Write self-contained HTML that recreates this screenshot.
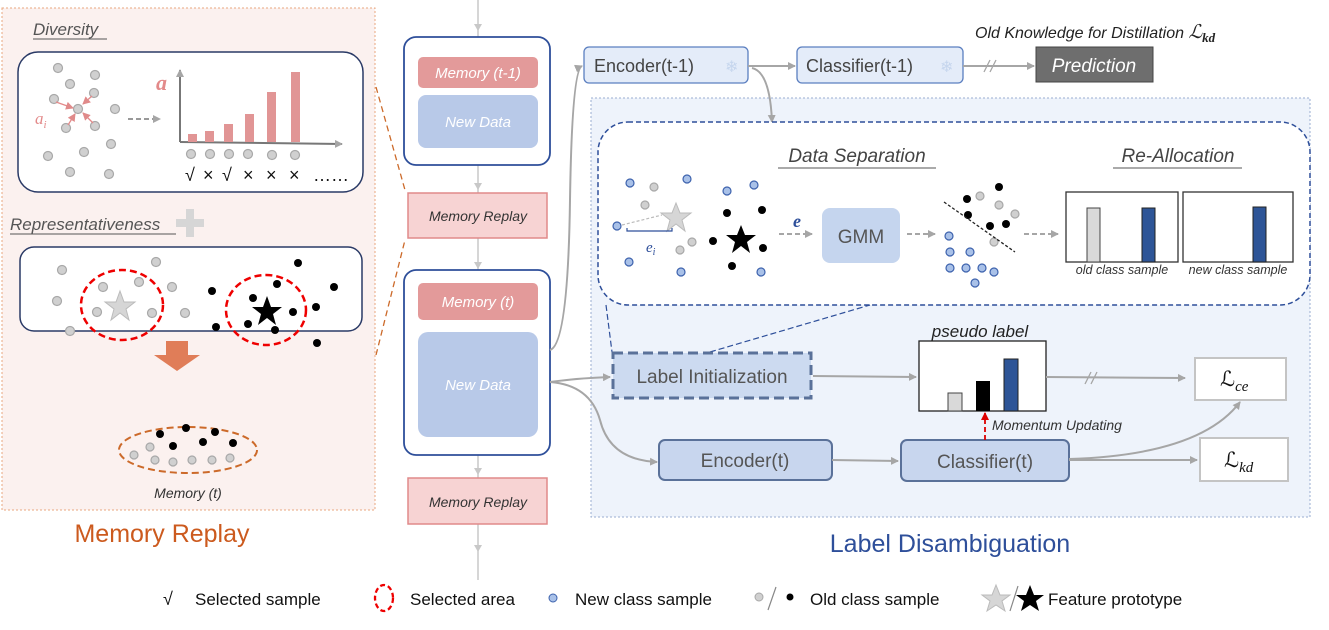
<!DOCTYPE html>
<html><head><meta charset="utf-8"><style>
html,body{margin:0;padding:0;background:#fff;}
svg{display:block;font-family:"Liberation Sans",sans-serif;}
</style></head><body>
<svg width="1329" height="630" viewBox="0 0 1329 630" xmlns="http://www.w3.org/2000/svg">
<defs>
<marker id="ag" markerWidth="8" markerHeight="8" refX="7" refY="4" orient="auto" markerUnits="userSpaceOnUse"><path d="M0,0 L8,4 L0,8 z" fill="#a6a6a6"/></marker>
<marker id="ar" markerWidth="8" markerHeight="8" refX="7" refY="4" orient="auto" markerUnits="userSpaceOnUse"><path d="M0,0 L8,4 L0,8 z" fill="#d00"/></marker>
<marker id="ap" markerWidth="8" markerHeight="8" refX="7" refY="4" orient="auto" markerUnits="userSpaceOnUse"><path d="M0,0 L8,4 L0,8 z" fill="#e08a8a"/></marker>
</defs>

<rect x="2" y="8" width="373" height="502" fill="#fbf1ef" stroke="#e9a77f" stroke-dasharray="2,2"/>
<text x="33" y="35" font-size="17" font-style="italic" fill="#555">Diversity</text>
<line x1="33" y1="39" x2="107" y2="39" stroke="#555"/>
<rect x="18" y="52" width="345" height="140" rx="20" fill="#fff" stroke="#2a3a66" stroke-width="1.5"/>
<g fill="#d0d0d0" stroke="#a8a8a8" stroke-width="1.2">
<circle cx="58" cy="68" r="4.5"/><circle cx="95" cy="75" r="4.5"/><circle cx="70" cy="84" r="4.5"/><circle cx="94" cy="93" r="4.5"/><circle cx="54" cy="99" r="4.5"/><circle cx="78" cy="109" r="4.5"/><circle cx="115" cy="109" r="4.5"/><circle cx="66" cy="128" r="4.5"/><circle cx="95" cy="126" r="4.5"/><circle cx="111" cy="144" r="4.5"/><circle cx="48" cy="156" r="4.5"/><circle cx="84" cy="152" r="4.5"/><circle cx="70" cy="172" r="4.5"/><circle cx="109" cy="174" r="4.5"/>
</g>
<g stroke="#e38a8a" stroke-width="1.3" marker-end="url(#ap)"><line x1="56" y1="102" x2="73" y2="108"/><line x1="92" y1="96" x2="83" y2="104"/><line x1="68" y1="125" x2="75" y2="114"/><line x1="93" y1="123" x2="83" y2="113"/></g>
<text x="35" y="124" font-size="17" font-style="italic" fill="#e38a8a" font-family="Liberation Serif,serif">a<tspan font-size="11" dy="4">i</tspan></text>
<line x1="128" y1="119" x2="160" y2="119" stroke="#999" stroke-width="2" stroke-dasharray="5,3" marker-end="url(#ag)"/>
<line x1="180" y1="142" x2="180" y2="70" stroke="#777" stroke-width="2" marker-end="url(#ag)"/>
<line x1="180" y1="142" x2="342" y2="144" stroke="#777" stroke-width="2" marker-end="url(#ag)"/>
<text x="156" y="90" font-size="22" font-weight="bold" font-style="italic" fill="#e38a8a" font-family="Liberation Serif,serif">a</text>
<g fill="#e19595"><rect x="188" y="134" width="9" height="8"/><rect x="205" y="131" width="9" height="11"/><rect x="224" y="124" width="9" height="18"/><rect x="245" y="114" width="9" height="28"/><rect x="267" y="92" width="9" height="50"/><rect x="291" y="72" width="9" height="70"/></g>
<g fill="#d0d0d0" stroke="#a8a8a8" stroke-width="1.2"><circle cx="191" cy="154" r="4.5"/><circle cx="210" cy="154" r="4.5"/><circle cx="229" cy="154" r="4.5"/><circle cx="248" cy="154" r="4.5"/><circle cx="272" cy="155" r="4.5"/><circle cx="295" cy="155" r="4.5"/></g>
<g font-size="18" fill="#111"><text x="185" y="181">√</text><text x="203" y="181">×</text><text x="222" y="181">√</text><text x="243" y="181">×</text><text x="266" y="181">×</text><text x="289" y="181">×</text><text x="313" y="181">……</text></g>

<text x="10" y="230" font-size="17" font-style="italic" fill="#555">Representativeness</text>
<line x1="10" y1="234" x2="176" y2="234" stroke="#555"/>
<path d="M186,209 h8 v10 h10 v8 h-10 v10 h-8 v-10 h-10 v-8 h10 z" fill="#d6d6d6"/>
<rect x="20" y="247" width="342" height="84" rx="14" fill="#fff" stroke="#2a3a66" stroke-width="1.5"/>
<g fill="#d0d0d0" stroke="#a8a8a8" stroke-width="1.2"><circle cx="62" cy="270" r="4.5"/><circle cx="156" cy="262" r="4.5"/><circle cx="103" cy="287" r="4.5"/><circle cx="139" cy="282" r="4.5"/><circle cx="172" cy="287" r="4.5"/><circle cx="57" cy="301" r="4.5"/><circle cx="97" cy="312" r="4.5"/><circle cx="152" cy="313" r="4.5"/><circle cx="185" cy="313" r="4.5"/><circle cx="70" cy="331" r="4.5"/></g>
<ellipse cx="122" cy="305" rx="41" ry="35" fill="none" stroke="#e00" stroke-width="2.5" stroke-dasharray="7,4"/>
<polygon points="120,291 124,302 135,302 126,309 129,320 120,313 111,320 114,309 105,302 116,302" fill="#d6d6d6" stroke="#bbb"/>
<ellipse cx="266" cy="310" rx="40" ry="35" fill="none" stroke="#e00" stroke-width="2.5" stroke-dasharray="7,4"/>
<g fill="#000"><circle cx="298" cy="263" r="4"/><circle cx="277" cy="284" r="4"/><circle cx="334" cy="287" r="4"/><circle cx="212" cy="291" r="4"/><circle cx="253" cy="298" r="4"/><circle cx="316" cy="307" r="4"/><circle cx="293" cy="312" r="4"/><circle cx="216" cy="327" r="4"/><circle cx="248" cy="324" r="4"/><circle cx="275" cy="330" r="4"/><circle cx="317" cy="343" r="4"/></g>
<polygon points="267,296 271,307 282,307 273,314 276,325 267,318 258,325 261,314 252,307 263,307" fill="#000"/>
<path d="M166,341 h22 v14 h12 l-23,16 l-23,-16 h12 z" fill="#e07d58"/>
<ellipse cx="188" cy="450" rx="69" ry="23" fill="none" stroke="#cc6a2a" stroke-width="2" stroke-dasharray="7,4"/>
<g fill="#000"><circle cx="160" cy="434" r="4"/><circle cx="186" cy="428" r="4"/><circle cx="215" cy="432" r="4"/><circle cx="173" cy="446" r="4"/><circle cx="203" cy="442" r="4"/><circle cx="233" cy="443" r="4"/></g>
<g fill="#d0d0d0" stroke="#a8a8a8" stroke-width="1.2"><circle cx="134" cy="455" r="4"/><circle cx="155" cy="460" r="4"/><circle cx="173" cy="462" r="4"/><circle cx="192" cy="460" r="4"/><circle cx="212" cy="460" r="4"/><circle cx="230" cy="458" r="4"/><circle cx="150" cy="447" r="4"/></g>
<text x="188" y="498" font-size="14" font-style="italic" fill="#333" text-anchor="middle">Memory (t)</text>
<text x="162" y="542" font-size="25" fill="#cc5a1e" text-anchor="middle">Memory Replay</text>
<line x1="376" y1="87" x2="405" y2="190" stroke="#cc6a2a" stroke-width="1.3" stroke-dasharray="6,4"/>
<line x1="376" y1="355" x2="405" y2="240" stroke="#cc6a2a" stroke-width="1.3" stroke-dasharray="6,4"/>

<line x1="478" y1="0" x2="478" y2="580" stroke="#c8c8c8" stroke-width="1.5"/>
<g fill="#c8c8c8"><path d="M474,24 l4,7 l4,-7z"/><path d="M474,183 l4,7 l4,-7z"/><path d="M474,262 l4,7 l4,-7z"/><path d="M474,468 l4,7 l4,-7z"/><path d="M474,545 l4,7 l4,-7z"/></g>
<rect x="404" y="37" width="146" height="128" rx="12" fill="#fff" stroke="#2e4f9a" stroke-width="1.8"/>
<rect x="418" y="57" width="120" height="31" rx="5" fill="#e39a9a"/>
<text x="478" y="78" font-size="15" font-style="italic" fill="#fff" text-anchor="middle">Memory (t-1)</text>
<rect x="418" y="95" width="120" height="53" rx="8" fill="#b8c9e8"/>
<text x="478" y="127" font-size="15" font-style="italic" fill="#fff" text-anchor="middle">New Data</text>
<rect x="408" y="193" width="139" height="45" fill="#f7d3d3" stroke="#e08a8a" stroke-width="1.5"/>
<text x="478" y="221" font-size="14" font-style="italic" fill="#333" text-anchor="middle">Memory Replay</text>
<rect x="404" y="270" width="146" height="185" rx="12" fill="#fff" stroke="#2e4f9a" stroke-width="1.8"/>
<rect x="418" y="283" width="120" height="37" rx="5" fill="#e39a9a"/>
<text x="478" y="307" font-size="15" font-style="italic" fill="#fff" text-anchor="middle">Memory (t)</text>
<rect x="418" y="332" width="120" height="105" rx="10" fill="#b8c9e8"/>
<text x="478" y="390" font-size="15" font-style="italic" fill="#fff" text-anchor="middle">New Data</text>
<rect x="408" y="478" width="139" height="46" fill="#f7d3d3" stroke="#e08a8a" stroke-width="1.5"/>
<text x="478" y="507" font-size="14" font-style="italic" fill="#333" text-anchor="middle">Memory Replay</text>

<rect x="591" y="98" width="719" height="419" fill="#eef3fb" stroke="#9aaed0" stroke-dasharray="2,2"/>
<text x="975" y="38" font-size="16" font-style="italic" fill="#222">Old Knowledge for Distillation <tspan font-family="Liberation Serif,serif" font-size="19">ℒ</tspan><tspan font-family="Liberation Serif,serif" font-size="13" font-style="italic" font-weight="bold" dy="4">kd</tspan></text>
<rect x="584" y="47" width="164" height="36" rx="5" fill="#e4ecf9" stroke="#5b7fc0" stroke-width="1.3"/>
<text x="594" y="72" font-size="18" fill="#444">Encoder(t-1)</text><text x="725" y="72" font-size="16" fill="#c6d6ee">❄</text>
<rect x="797" y="47" width="166" height="36" rx="5" fill="#e4ecf9" stroke="#5b7fc0" stroke-width="1.3"/>
<text x="806" y="72" font-size="18" fill="#444">Classifier(t-1)</text><text x="940" y="72" font-size="16" fill="#c6d6ee">❄</text>
<rect x="1036" y="47" width="117" height="35" fill="#6e6e6e" stroke="#444"/>
<text x="1094" y="72" font-size="19" font-style="italic" fill="#fff" text-anchor="middle">Prediction</text>
<line x1="748" y1="66" x2="795" y2="66" stroke="#a6a6a6" stroke-width="2" marker-end="url(#ag)"/>
<line x1="963" y1="66" x2="1034" y2="66" stroke="#a6a6a6" stroke-width="2" marker-end="url(#ag)"/>
<path d="M984,72 l6,-12 M990,72 l6,-12" stroke="#a6a6a6" stroke-width="1.3"/>
<path d="M752,68 Q770,72 772,122" fill="none" stroke="#a6a6a6" stroke-width="2" marker-end="url(#ag)"/>
<path d="M550,350 Q568,345 570,200 Q572,70 582,66" fill="none" stroke="#a6a6a6" stroke-width="2" marker-end="url(#ag)"/>

<rect x="598" y="122" width="712" height="183" rx="30" fill="#fff" stroke="#2e4f9a" stroke-width="1.5" stroke-dasharray="5,3"/>
<text x="857" y="162" font-size="19" font-style="italic" fill="#444" text-anchor="middle">Data Separation</text>
<line x1="778" y1="168" x2="936" y2="168" stroke="#555"/>
<text x="1178" y="162" font-size="19" font-style="italic" fill="#444" text-anchor="middle">Re-Allocation</text>
<line x1="1113" y1="168" x2="1242" y2="168" stroke="#555"/>
<g fill="#a9c1e8" stroke="#3d62ad" stroke-width="1.2"><circle cx="630" cy="183" r="4"/><circle cx="687" cy="179" r="4"/><circle cx="727" cy="191" r="4"/><circle cx="754" cy="185" r="4"/><circle cx="617" cy="226" r="4"/><circle cx="629" cy="262" r="4"/><circle cx="681" cy="272" r="4"/><circle cx="761" cy="272" r="4"/></g>
<g fill="#d0d0d0" stroke="#a8a8a8" stroke-width="1.2"><circle cx="654" cy="187" r="4"/><circle cx="645" cy="205" r="4"/><circle cx="692" cy="242" r="4"/><circle cx="680" cy="250" r="4"/></g>
<polygon points="676,203 680,213 691,213 682,220 685,231 676,224 667,231 670,220 661,213 672,213" fill="#d6d6d6" stroke="#bbb"/>
<line x1="622" y1="225" x2="662" y2="215" stroke="#bbb" stroke-width="1.2" stroke-dasharray="3,2"/>
<path d="M627,228 v3 h45 v-3" fill="none" stroke="#2e4f9a" stroke-width="1.2"/>
<text x="646" y="252" font-size="15" font-style="italic" fill="#2e4f9a" font-family="Liberation Serif,serif">e<tspan font-size="10" dy="3">i</tspan></text>
<g fill="#000"><circle cx="727" cy="213" r="4"/><circle cx="762" cy="210" r="4"/><circle cx="713" cy="241" r="4"/><circle cx="763" cy="248" r="4"/><circle cx="732" cy="266" r="4"/></g>
<polygon points="741,225 745,235 756,235 747,242 750,253 741,246 732,253 735,242 726,235 737,235" fill="#000"/>
<text x="793" y="227" font-size="18" font-weight="bold" font-style="italic" fill="#2e4f9a" font-family="Liberation Serif,serif">e</text>
<line x1="779" y1="234" x2="812" y2="234" stroke="#a6a6a6" stroke-width="2" stroke-dasharray="5,3" marker-end="url(#ag)"/>
<rect x="822" y="208" width="78" height="55" rx="8" fill="#c5d5ee"/>
<text x="861" y="243" font-size="19" fill="#555" text-anchor="middle">GMM</text>
<line x1="907" y1="234" x2="935" y2="234" stroke="#a6a6a6" stroke-width="2" stroke-dasharray="5,3" marker-end="url(#ag)"/>
<g fill="#000"><circle cx="967" cy="199" r="4"/><circle cx="999" cy="187" r="4"/><circle cx="968" cy="215" r="4"/><circle cx="990" cy="226" r="4"/><circle cx="1006" cy="224" r="4"/></g>
<g fill="#d0d0d0" stroke="#a8a8a8" stroke-width="1.2"><circle cx="980" cy="196" r="4"/><circle cx="999" cy="205" r="4"/><circle cx="1015" cy="214" r="4"/><circle cx="994" cy="242" r="4"/></g>
<line x1="944" y1="202" x2="1015" y2="252" stroke="#222" stroke-width="1.3" stroke-dasharray="3,2"/>
<g fill="#a9c1e8" stroke="#3d62ad" stroke-width="1.2"><circle cx="949" cy="236" r="4"/><circle cx="950" cy="252" r="4"/><circle cx="970" cy="252" r="4"/><circle cx="950" cy="268" r="4"/><circle cx="966" cy="268" r="4"/><circle cx="982" cy="268" r="4"/><circle cx="994" cy="272" r="4"/><circle cx="975" cy="283" r="4"/></g>
<line x1="1024" y1="234" x2="1058" y2="234" stroke="#a6a6a6" stroke-width="2" stroke-dasharray="5,3" marker-end="url(#ag)"/>
<rect x="1066" y="192" width="112" height="70" fill="#fff" stroke="#333" stroke-width="1.3"/>
<rect x="1087" y="208" width="13" height="54" fill="#d9d9d9" stroke="#444"/>
<rect x="1142" y="208" width="13" height="54" fill="#2e5597" stroke="#222"/>
<rect x="1183" y="192" width="110" height="70" fill="#fff" stroke="#333" stroke-width="1.3"/>
<rect x="1253" y="207" width="13" height="55" fill="#2e5597" stroke="#222"/>
<text x="1122" y="274" font-size="12.5" font-style="italic" fill="#333" text-anchor="middle">old class sample</text>
<text x="1238" y="274" font-size="12.5" font-style="italic" fill="#333" text-anchor="middle">new class sample</text>

<line x1="606" y1="305" x2="612" y2="352" stroke="#2e4f9a" stroke-width="1.2" stroke-dasharray="6,3"/>
<line x1="710" y1="352" x2="870" y2="305" stroke="#2e4f9a" stroke-width="1.2" stroke-dasharray="6,3"/>
<rect x="613" y="353" width="198" height="45" fill="#ccdaf0" stroke="#5a7199" stroke-width="3" stroke-dasharray="10,5"/>
<text x="712" y="383" font-size="19" fill="#555" text-anchor="middle">Label Initialization</text>
<path d="M550,382 Q580,378 610,377" fill="none" stroke="#a6a6a6" stroke-width="2" marker-end="url(#ag)"/>
<path d="M550,382 Q590,385 600,420 Q610,460 657,462" fill="none" stroke="#a6a6a6" stroke-width="2" marker-end="url(#ag)"/>
<line x1="813" y1="376" x2="916" y2="377" stroke="#a6a6a6" stroke-width="2" marker-end="url(#ag)"/>
<text x="980" y="337" font-size="17" font-style="italic" fill="#222" text-anchor="middle">pseudo label</text>
<rect x="919" y="341" width="127" height="70" fill="#fff" stroke="#222" stroke-width="1.3"/>
<rect x="948" y="393" width="14" height="18" fill="#d9d9d9" stroke="#444"/>
<rect x="976" y="381" width="14" height="30" fill="#000"/>
<rect x="1004" y="359" width="14" height="52" fill="#2e5597" stroke="#222"/>
<line x1="1046" y1="377" x2="1185" y2="378" stroke="#a6a6a6" stroke-width="2" marker-end="url(#ag)"/>
<path d="M1085,384 l6,-12 M1091,384 l6,-12" stroke="#a6a6a6" stroke-width="1.3"/>
<rect x="1195" y="358" width="91" height="42" fill="#fff" stroke="#c4c4c4" stroke-width="2"/>
<text x="1220" y="386" font-size="21" fill="#111" font-family="Liberation Serif,serif">ℒ<tspan font-size="15" font-style="italic" dy="5">ce</tspan></text>
<rect x="659" y="440" width="173" height="40" rx="6" fill="#c8d6ee" stroke="#5a7199" stroke-width="2"/>
<text x="745" y="467" font-size="19" fill="#555" text-anchor="middle">Encoder(t)</text>
<line x1="832" y1="460" x2="898" y2="461" stroke="#a6a6a6" stroke-width="2" marker-end="url(#ag)"/>
<rect x="901" y="440" width="168" height="41" rx="6" fill="#c8d6ee" stroke="#5a7199" stroke-width="2"/>
<text x="985" y="468" font-size="19" fill="#555" text-anchor="middle">Classifier(t)</text>
<line x1="985" y1="440" x2="985" y2="413" stroke="#d00" stroke-width="1.8" stroke-dasharray="5,3" marker-end="url(#ar)"/>
<text x="992" y="430" font-size="14" font-style="italic" fill="#333">Momentum Updating</text>
<line x1="1069" y1="460" x2="1197" y2="460" stroke="#a6a6a6" stroke-width="2" marker-end="url(#ag)"/>
<path d="M1069,459 Q1200,455 1240,402" fill="none" stroke="#a6a6a6" stroke-width="2" marker-end="url(#ag)"/>
<rect x="1200" y="438" width="88" height="43" fill="#fff" stroke="#c4c4c4" stroke-width="2"/>
<text x="1224" y="467" font-size="21" fill="#111" font-family="Liberation Serif,serif">ℒ<tspan font-size="15" font-style="italic" dy="5">kd</tspan></text>
<text x="950" y="552" font-size="25" fill="#2e4f9a" text-anchor="middle">Label Disambiguation</text>

<text x="163" y="605" font-size="18" fill="#111">√</text>
<text x="195" y="605" font-size="17" fill="#111">Selected sample</text>
<ellipse cx="384" cy="598" rx="9" ry="13" fill="none" stroke="#e00" stroke-width="2.3" stroke-dasharray="5,3"/>
<text x="410" y="605" font-size="17" fill="#111">Selected area</text>
<circle cx="553" cy="598" r="4" fill="#a9c1e8" stroke="#3d62ad"/>
<text x="575" y="605" font-size="17" fill="#111">New class sample</text>
<circle cx="759" cy="597" r="4" fill="#d0d0d0" stroke="#a8a8a8"/>
<line x1="776" y1="587" x2="768" y2="610" stroke="#888" stroke-width="1.2"/>
<circle cx="790" cy="597" r="3.5" fill="#000"/>
<text x="810" y="605" font-size="17" fill="#111">Old class sample</text>
<polygon points="996,585 1000,595 1010,595 1002,601 1005,611 996,605 987,611 990,601 982,595 992,595" fill="#d6d6d6" stroke="#bbb"/>
<line x1="1018" y1="586" x2="1010" y2="611" stroke="#888" stroke-width="1.2"/>
<polygon points="1030,585 1034,595 1044,595 1036,601 1039,611 1030,605 1021,611 1024,601 1016,595 1026,595" fill="#000"/>
<text x="1048" y="605" font-size="17" fill="#111">Feature prototype</text>
</svg>
</body></html>
